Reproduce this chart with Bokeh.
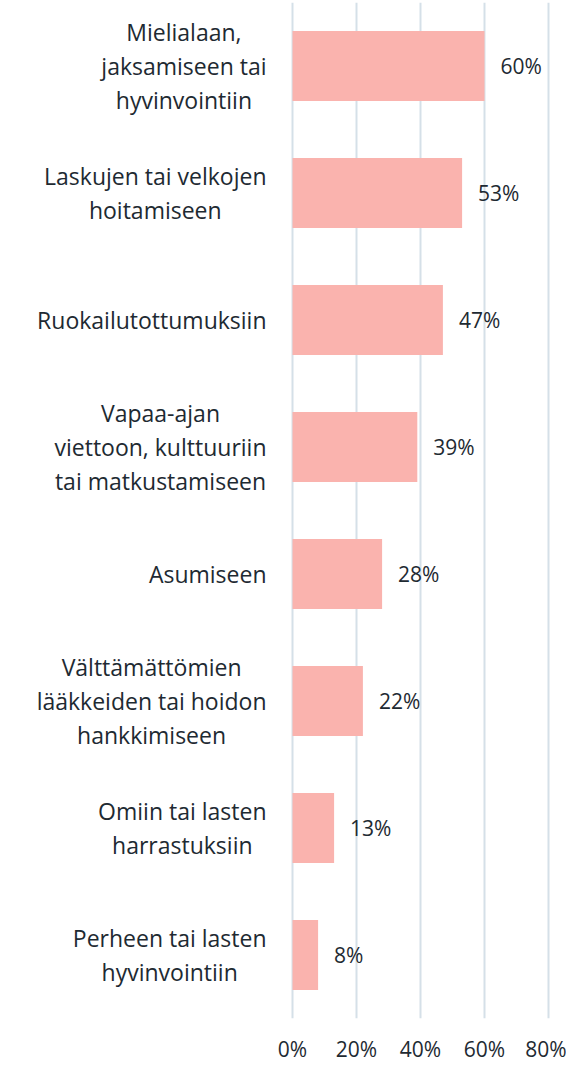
from bokeh.plotting import figure
from bokeh.models import ColumnDataSource, FactorRange, Range1d, FixedTicker, CustomJSTickFormatter
from bokeh.core.properties import value
from bokeh.embed import file_html
from bokeh.resources import INLINE

categories = [
    "Mielialaan,\njaksamiseen tai\nhyvinvointiin",
    "Laskujen tai velkojen\nhoitamiseen",
    "Ruokailutottumuksiin",
    "Vapaa-ajan\nviettoon, kulttuuriin\ntai matkustamiseen",
    "Asumiseen",
    "Välttämättömien\nlääkkeiden tai hoidon\nhankkimiseen",
    "Omiin tai lasten\nharrastuksiin",
    "Perheen tai lasten\nhyvinvointiin",
]
values = [60, 53, 47, 39, 28, 22, 13, 8]
value_labels = [f"{v}%" for v in values]
ticks = [0, 20, 40, 60, 80]

FONT = "Open Sans"
TEXT = "#1e2a32"

src = ColumnDataSource(dict(cat=categories, val=values, lab=value_labels,
                            base=[0] * len(values)))

p = figure(
    width=566, height=1065,
    y_range=FactorRange(factors=list(reversed(categories)), range_padding=0),
    x_range=Range1d(-91.25, 85.625),
    output_backend="svg", toolbar_location=None,
    min_border_left=0, min_border_right=0, min_border_top=2, min_border_bottom=0,
)
p.outline_line_color = None
p.background_fill_color = "white"
p.yaxis.visible = False

p.hbar(y="cat", left="base", right="val", height=0.55, source=src,
       color="#FAB3AE", line_color=None)
p.text(x="val", y="cat", text="lab", source=src, x_offset=16,
       text_align="left", text_baseline="middle", text_font_size="21px",
       text_font=value(FONT), text_color=TEXT)
# category labels: block anchored right of the 0 line, lines centred
p.text(x="base", y="cat", text="cat", source=src, x_offset=-26,
       anchor="center_right", text_align="center", text_baseline="middle",
       text_font_size="23px", text_line_height=1.05,
       text_font=value(FONT), text_color=TEXT)

p.xaxis.ticker = FixedTicker(ticks=ticks)
p.xaxis.formatter = CustomJSTickFormatter(code="return tick + '%'")
p.xaxis.axis_line_color = None
p.xaxis.major_tick_line_color = None
p.xaxis.minor_tick_line_color = None
p.xaxis.major_label_standoff = 10
p.xaxis.major_label_text_font = FONT
p.xaxis.major_label_text_font_size = "21px"
p.xaxis.major_label_text_color = TEXT

p.ygrid.grid_line_color = None
p.xgrid.grid_line_color = "#D5E0E8"
p.xgrid.grid_line_width = 2

open("out.html", "w").write(file_html(p, INLINE))
